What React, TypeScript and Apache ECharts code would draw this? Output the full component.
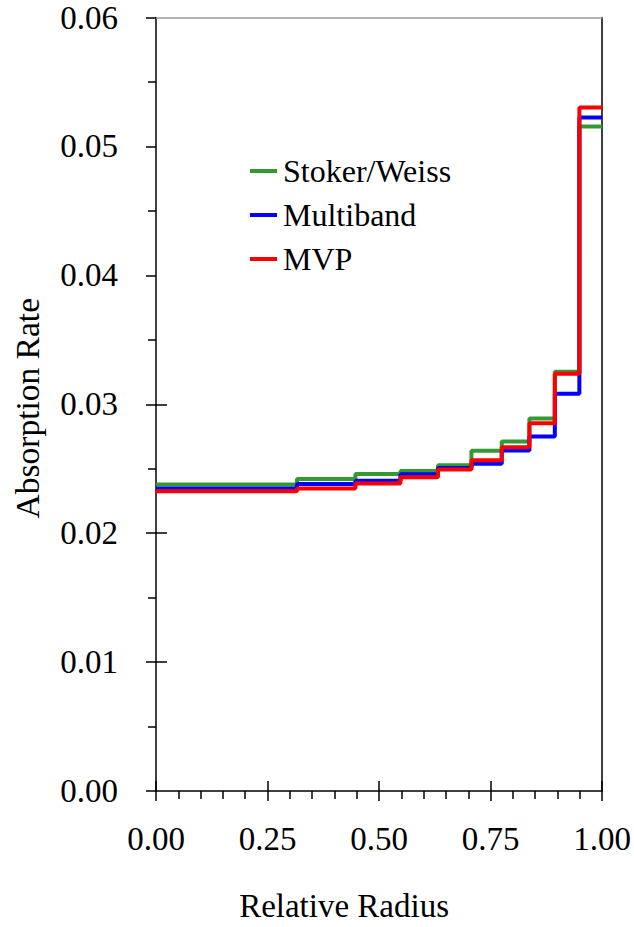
import React, { useEffect, useRef } from "react";
import * as echarts from "echarts";

// Ring start positions (relative radius) plus the outer edge 1.0
const ringEdges = [0, 0.316, 0.447, 0.548, 0.632, 0.707, 0.775, 0.837, 0.894, 0.949, 1.0];

const stokerWeiss = [0.02378, 0.02421, 0.02459, 0.02482, 0.02526, 0.02639, 0.02711, 0.0289, 0.03252, 0.05155];
const multiband = [0.02347, 0.02382, 0.02407, 0.02457, 0.02505, 0.02539, 0.02641, 0.02749, 0.03082, 0.05224];
const mvp = [0.02326, 0.02347, 0.02385, 0.02434, 0.02493, 0.02565, 0.02667, 0.02852, 0.03236, 0.05301];

const seriesNames = ["Stoker/Weiss", "Multiband", "MVP"];
const seriesColors = ["#339933", "#0000ff", "#ff0000"];

const xTickLabels = ["0.00", "0.25", "0.50", "0.75", "1.00"];
const yTickLabels = ["0.00", "0.01", "0.02", "0.03", "0.04", "0.05", "0.06"];

const FONT = "Liberation Serif";

function toSteps(values: number[]): [number, number][] {
  const pts: [number, number][] = values.map((v, i) => [ringEdges[i], v]);
  pts.push([ringEdges[ringEdges.length - 1], values[values.length - 1]]);
  return pts;
}

export default function App() {
  const ref = useRef<HTMLDivElement>(null);

  useEffect(() => {
    if (!ref.current) return;
    const chart = echarts.init(ref.current, undefined, { renderer: "svg" });
    const allValues = [stokerWeiss, multiband, mvp];

    const option: any = {
      animation: false,
      backgroundColor: "#ffffff",
      textStyle: { fontFamily: FONT, color: "#000" },
      grid: { left: 156, right: 24.5, top: 17.5, bottom: 129.7, containLabel: false },
      legend: {
        orient: "vertical",
        left: 245,
        top: 150,
        itemGap: 12,
        itemWidth: 27,
        itemHeight: 4,
        icon: "rect",
        data: seriesNames,
        textStyle: { fontFamily: FONT, fontSize: 32, color: "#000", padding: [0, 0, 0, 1] },
      },
      xAxis: [
        {
          type: "value",
          position: "bottom",
          min: 0,
          max: 1,
          interval: 0.25,
          name: "Relative Radius",
          nameLocation: "middle",
          nameGap: 98,
          nameTextStyle: { fontFamily: FONT, fontSize: 33, color: "#000", padding: [0, 70, 0, 0] },
          axisLine: { show: true, onZero: false, lineStyle: { color: "#000", width: 1.5 } },
          axisTick: { show: true, inside: false, length: 10, lineStyle: { color: "#000", width: 1.5 } },
          minorTick: { show: true, splitNumber: 5, length: 8, lineStyle: { color: "#000", width: 1.5 } },
          axisLabel: {
            margin: 31,
            fontFamily: FONT,
            fontSize: 33,
            color: "#000",
            formatter: (v: number) => xTickLabels[Math.round(v / 0.25)] ?? "",
          },
          splitLine: { show: false },
        },
        {
          type: "value",
          position: "bottom",
          min: 0,
          max: 1,
          interval: 0.25,
          axisLine: { show: false, onZero: false },
          axisTick: { show: true, inside: true, length: 10, lineStyle: { color: "#000", width: 1.5 } },
          axisLabel: { show: false },
          splitLine: { show: false },
        },
        {
          type: "value",
          position: "top",
          min: 0,
          max: 1,
          axisLine: { show: true, onZero: false, lineStyle: { color: "#999", width: 1.5 } },
          axisTick: { show: false },
          axisLabel: { show: false },
          splitLine: { show: false },
        },
      ],
      yAxis: [
        {
          type: "value",
          position: "left",
          min: 0,
          max: 0.06,
          interval: 0.01,
          name: "Absorption Rate",
          nameLocation: "middle",
          nameGap: 112,
          nameTextStyle: { fontFamily: FONT, fontSize: 33.5, color: "#000", padding: [0, 8, 0, 0] },
          axisLine: { show: true, onZero: false, lineStyle: { color: "#000", width: 1.5 } },
          axisTick: { show: true, inside: false, length: 10, lineStyle: { color: "#000", width: 1.5 } },
          minorTick: { show: true, splitNumber: 2, length: 8, lineStyle: { color: "#000", width: 1.5 } },
          axisLabel: {
            margin: 38,
            fontFamily: FONT,
            fontSize: 33,
            color: "#000",
            formatter: (v: number) => yTickLabels[Math.round(v / 0.01)] ?? "",
          },
          splitLine: { show: false },
        },
        {
          type: "value",
          position: "left",
          min: 0,
          max: 0.06,
          interval: 0.01,
          axisLine: { show: false, onZero: false },
          axisTick: {
            show: true,
            inside: true,
            length: 11,
            customValues: [0.01, 0.02, 0.03],
            lineStyle: { color: "#000", width: 1.5 },
          },
          axisLabel: { show: false },
          splitLine: { show: false },
        },
        {
          type: "value",
          position: "right",
          min: 0,
          max: 0.06,
          axisLine: { show: true, onZero: false, lineStyle: { color: "#000", width: 1.5 } },
          axisTick: { show: false },
          axisLabel: { show: false },
          splitLine: { show: false },
        },
      ],
      series: seriesNames.map((name, i) => ({
        name,
        type: "line",
        step: "end",
        xAxisIndex: 0,
        yAxisIndex: 0,
        symbol: "none",
        color: seriesColors[i],
        lineStyle: { color: seriesColors[i], width: 4 },
        data: toSteps(allValues[i]),
        z: 2 + i,
      })),
    };

    chart.setOption(option);
    return () => chart.dispose();
  }, []);

  return (
    <div
      ref={ref}
      style={{ position: "fixed", left: 0, top: 0, width: 634, height: 927, background: "#fff" }}
    />
  );
}
